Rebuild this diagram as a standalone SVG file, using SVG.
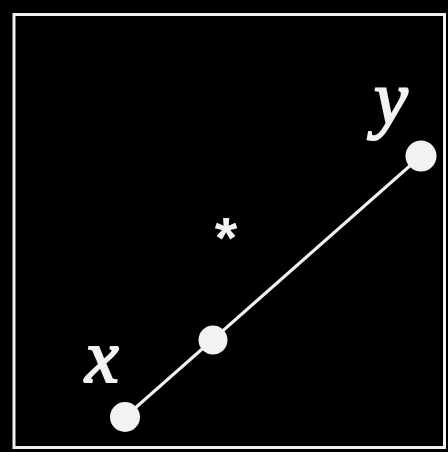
<svg xmlns="http://www.w3.org/2000/svg" width="448" height="452" viewBox="0 0 448 452">
<style>
.pt{fill:#f2f2f2}
.lbl{font-family:"Liberation Serif",serif;font-style:italic;fill:#f2f2f2;stroke:#f2f2f2;stroke-width:2}
</style>
<rect x="0" y="0" width="448" height="452" fill="#000"/>
<rect x="14" y="14.5" width="430.5" height="433" fill="none" stroke="#f0f0f0" stroke-width="3"/>
<g id="connectors">
<line x1="125" y1="417" x2="421" y2="156" stroke="#f0f0f0" stroke-width="3"/>
</g>
<g id="node-x">
<circle class="pt" cx="125" cy="417" r="15"/>
<text class="lbl" x="85" y="382" font-size="76">x</text>
</g>
<g id="node-mid">
<circle class="pt" cx="213" cy="340" r="14.5"/>
</g>
<g id="node-y">
<circle class="pt" cx="421" cy="156" r="15.5"/>
<text class="lbl" x="374" y="124" font-size="76">y</text>
</g>
<g id="star">
<text x="226" y="258" font-family="Liberation Sans,sans-serif" font-size="58" font-weight="bold" fill="#f2f2f2" text-anchor="middle">*</text>
</g>
</svg>
